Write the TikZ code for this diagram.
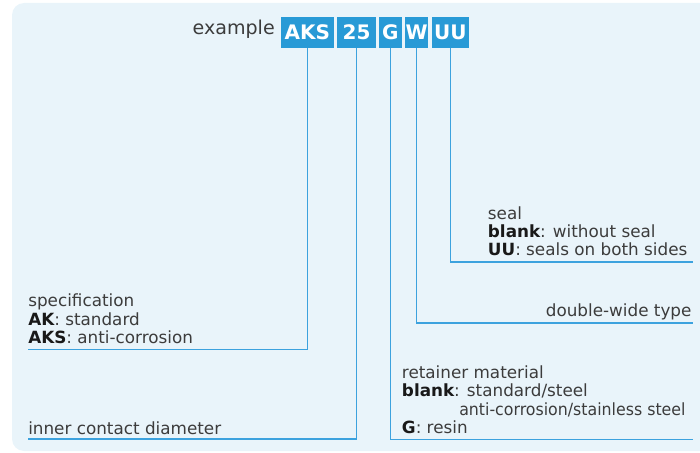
\documentclass[tikz,border=0pt]{standalone}
\usepackage{graphicx}
\usepackage{fontspec}
\setmainfont{DejaVu Sans}
\definecolor{bgblue}{RGB}{233,244,250}
\definecolor{boxblue}{RGB}{40,154,214}
\definecolor{leadblue}{RGB}{60,162,222}
\definecolor{txt}{RGB}{60,60,60}
\definecolor{txtb}{RGB}{25,25,25}
\tikzset{
  codebox/.style={fill=boxblue, text=white, inner sep=0pt, minimum height=23pt, font=\fontsize{15}{16}\selectfont\bfseries},
  lead/.style={draw=leadblue, line width=1.2pt},
  lbl/.style={anchor=base west, inner sep=0pt, text=txt, font=\fontsize{12.6}{14}\selectfont},
  lblr/.style={lbl, anchor=base east},
}
\newcommand{\bk}[1]{\textcolor{txtb}{\bfseries #1}}
\begin{document}
\begin{tikzpicture}[x=0.75pt,y=-0.75pt]
\useasboundingbox (0,0) rectangle (700,453);
\fill[bgblue] (12,3) [rounded corners=9pt] -- (12,451) -- (720,451) [sharp corners] -- (720,3) [rounded corners=9pt] -- cycle;
% header
\node[lbl, anchor=base east, font=\fontsize{14.3}{16}\selectfont] (ex) at (275,35) {example};
\node[codebox, minimum width=39.5pt] (aks) at (307.3,32.3) {AKS};
\node[codebox, minimum width=29.2pt] (n25) at (356.6,32.3) {25};
\node[codebox, minimum width=17pt] (g) at (390.3,32.3) {G};
\node[codebox, minimum width=17.2pt] (w) at (416.6,32.3) {W};
\node[codebox, minimum width=28pt] (uu) at (450.4,32.3) {UU};
% end points
\coordinate (specL) at (28,349.3);
\coordinate (innerL) at (28,439);
\coordinate (gR) at (693,439.3);
\coordinate (wR) at (693,322.7);
\coordinate (uuR) at (693,261.7);
% leaders
\draw[lead] (aks.south) |- (specL);
\draw[lead] (n25.south) |- (innerL);
\draw[lead] (g.south) |- (gR);
\draw[lead] (w.south) |- (wR);
\draw[lead] (uu.south) |- (uuR);
% labels
\node[lbl] (spec1) at (28,306.7) {specification};
\node[lbl] (spec2) at (28,325) {\bk{AK}: standard};
\node[lbl] (spec3) at (28,343.3) {\bk{AKS}: anti-corrosion};
\node[lbl] (inner) at (28,434) {inner contact diameter};
\node[lbl] (ret1) at (401.7,378.3) {retainer material};
\node[lbl] (ret2) at (401.7,396.7) {\bk{blank}: standard/steel};
\node[lbl] (ret3) at (459,415) {\scalebox{0.94}[1]{anti-corrosion/stainless steel}};
\node[lbl] (ret4) at (401.7,433.3) {\bk{G}: resin};
\node[lbl] (seal1) at (487.7,219.3) {seal};
\node[lbl] (seal2) at (487.7,237.3) {\bk{blank}: without seal};
\node[lbl] (seal3) at (487.7,255.7) {\bk{UU}: seals on both sides};
\node[lblr] (dw) at (691.7,316.7) {double-wide type};
\end{tikzpicture}
\end{document}
